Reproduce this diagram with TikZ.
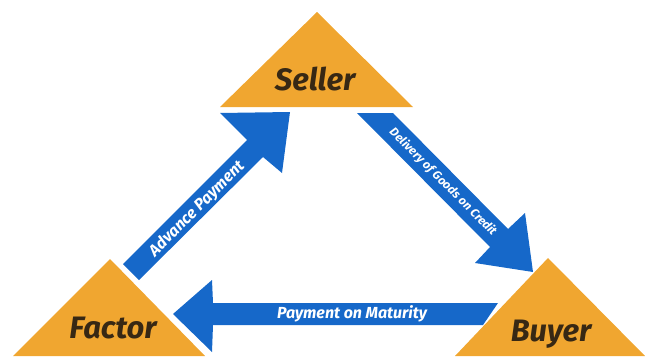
\documentclass[tikz,border=0pt]{standalone}
\usepackage{fontspec}
\setmainfont{Fira Sans}
\definecolor{tri}{RGB}{240,166,48}
\definecolor{arr}{RGB}{22,104,201}
\definecolor{ink}{RGB}{55,40,20}
\tikzset{
  party/.style={fill=tri},
  partytext/.style={anchor=base,inner sep=0pt,text=ink,font=\fontsize{31}{31}\selectfont\bfseries\itshape},
  flow/.style={fill=arr},
  flowtext/.style={inner sep=0pt,text=white,font=\bfseries\itshape}
}
\begin{document}
\begin{tikzpicture}[x=1pt,y=-1pt]
\useasboundingbox (0,0) rectangle (645,356);
% triangles
\path[party] (317,12) -- (413,107) -- (220,107) -- cycle;
\path[party] (110,259) -- (205,356) -- (13,356) -- cycle;
\path[party] (548,258) -- (645,356) -- (455,356) -- cycle;
% labels
\node[partytext] (seller) at (315,90) {Seller};
\node[partytext] (factor) at (113,338) {Factor};
\node[partytext] (buyer) at (551,341) {Buyer};
% arrows
\path[flow] (123,264) -- (247,140) -- (220,113) -- (290,112) -- (282,173) -- (263,157) -- (139,280) -- cycle;
\path[flow] (357,113) -- (393,113) -- (508,229) -- (525,213) -- (533,272) -- (475,263) -- (490,247) -- cycle;
\path[flow] (498,303) -- (213,303) -- (212,280) -- (173,314) -- (212,352) -- (213,325) -- (483,325) -- cycle;
% arrow labels
\node[flowtext,font=\fontsize{16}{16}\selectfont\bfseries\itshape,rotate=45] (adv) at (197,209) {Advance Payment};
\node[flowtext,font=\fontsize{12}{12}\selectfont\bfseries\itshape,rotate=-45] (del) at (443,182) {Delivery of Goods on Credit};
\node[flowtext,font=\fontsize{16}{16}\selectfont\bfseries\itshape] (pay) at (352,314) {Payment on Maturity};
\end{tikzpicture}
\end{document}
